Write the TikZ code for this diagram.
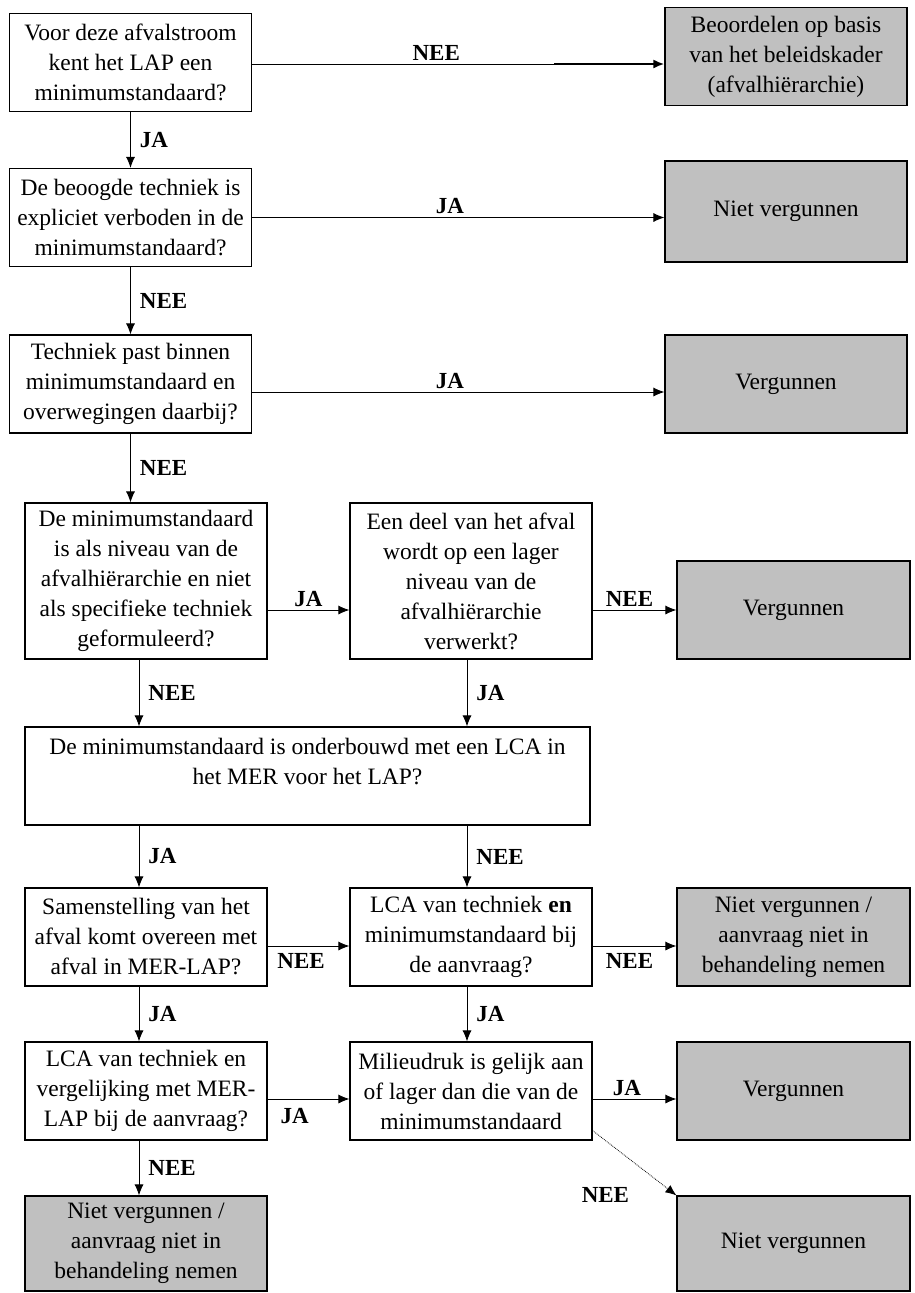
\documentclass[tikz,border=0pt]{standalone}
\usepackage{fontspec}
\setmainfont{Liberation Serif}
\usetikzlibrary{arrows.meta}
\definecolor{grijs}{HTML}{C0C0C0}

\begin{document}
\begin{tikzpicture}[x=1pt,y=-1pt,font=\fontsize{23.5}{30}\selectfont,
            vraag/.style={draw,fill=white,line width=1.1pt,align=center,inner sep=0pt,minimum width=242pt,minimum height=98pt},
            besluit/.style={vraag,fill=grijs},
            hoog/.style={minimum height=156pt},
            smal/.style={minimum width=233pt},
            pijl/.style={line width=0.9pt,-{Latex[length=11pt,width=9pt]}},
            lab/.style={font=\fontsize{23}{29}\selectfont\bfseries,inner sep=3pt}]
                \useasboundingbox (0,0) rectangle (914,1293);
                % vragen en besluiten
                \node[vraag] (v1) at (130.5,62.5) {Voor deze afvalstroom\\kent het LAP een\\minimumstandaard?};
                \node[besluit] (b1) at (786,56.5) {Beoordelen op basis\\van het beleidskader\\(afvalhiërarchie)};
                \node[vraag] (v2) at (130.5,217.5) {De beoogde techniek is\\expliciet verboden in de\\minimumstandaard?};
                \node[besluit,minimum height=101pt] (b2) at (786,211.5) {Niet vergunnen};
                \node[vraag] (v3) at (130.5,384) {Techniek past binnen\\minimumstandaard en\\overwegingen daarbij?};
                \node[besluit] (b3) at (786,384) {Vergunnen};
                \node[vraag,hoog] (v4) at (146,581) {De minimumstandaard\\is als niveau van de\\afvalhiërarchie en niet\\als specifieke techniek\\geformuleerd?};
                \node[vraag,hoog] (v5) at (471,581) {Een deel van het afval\\wordt op een lager\\niveau van de\\afvalhiërarchie\\verwerkt?};
                \node[besluit,smal] (b4) at (793.5,610) {Vergunnen};
                \node[vraag,minimum width=565pt] (v6) at (307.5,776) {De minimumstandaard is onderbouwd met een LCA in\\het MER voor het LAP?\\\mbox{}};
                \node[vraag] (v7) at (146,937) {Samenstelling van het\\afval komt overeen met\\afval in MER-LAP?};
                \node[vraag] (v8) at (471,937) {LCA van techniek \textbf{en}\\minimumstandaard bij\\de aanvraag?};
                \node[besluit,smal] (b5) at (793.5,937) {Niet vergunnen /\\aanvraag niet in\\behandeling nemen};
                \node[vraag] (v9) at (146,1091) {LCA van techniek en\\vergelijking met MER-\\LAP bij de aanvraag?};
                \node[vraag] (v10) at (471,1091) {Milieudruk is gelijk aan\\of lager dan die van de\\minimumstandaard};
                \node[besluit,smal] (b6) at (793.5,1091) {Vergunnen};
                \node[besluit,minimum height=95pt] (b7) at (146,1243.5) {Niet vergunnen /\\aanvraag niet in\\behandeling nemen};
                \node[besluit,smal,minimum height=95pt] (b8) at (793.5,1243.5) {Niet vergunnen};
                % pijlen
                \coordinate (dik) at (554,64);
                \draw[line width=0.9pt] (v1.east |- dik) -- node[lab,above,pos=0.61] (l1) {NEE} (dik);
                \draw[pijl,line width=2.2pt] (dik) -- (dik -| b1.west);
                \draw[pijl] (v1.south) -- node[lab,right=6pt] (l2) {JA} (v2.north);
                \draw[pijl] (v2.east) -- node[lab,above,pos=0.48] (l3) {JA} (v2.east -| b2.west);
                \draw[pijl] (v2.south) -- node[lab,right=6pt] (l4) {NEE} (v3.north);
                \draw[pijl] ([yshift=-8pt]v3.east) -- node[lab,above,pos=0.48] (l5) {JA} ([yshift=-8pt]v3.east -| b3.west);
                \draw[pijl] (v3.south) -- node[lab,right=6pt] (l6) {NEE} (v3.south |- v4.north);
                \draw[pijl] (v4.east |- b4.west) -- node[lab,above] (l7) {JA} (v5.west |- b4.west);
                \draw[pijl] (v5.east |- b4.west) -- node[lab,above,pos=0.44] (l8) {NEE} (b4.west);
                \draw[pijl] ([xshift=-7pt]v4.south) -- node[lab,right=6pt] (l9) {NEE} ([xshift=-7pt]v4.south |- v6.north);
                \draw[pijl] ([xshift=-4pt]v5.south) -- node[lab,right=6pt] (l10) {JA} ([xshift=-4pt]v5.south |- v6.north);
                \draw[pijl] ([xshift=-7pt]v7.north |- v6.south) -- node[lab,right=6pt] (l11) {JA} ([xshift=-7pt]v7.north);
                \draw[pijl] ([xshift=-4pt]v8.north |- v6.south) -- node[lab,right=6pt] (l12) {NEE} ([xshift=-4pt]v8.north);
                \draw[pijl] ([yshift=-9pt]v7.east) -- node[lab,below=4pt,pos=0.41] (l13) {NEE} ([yshift=-9pt]v7.east -| v8.west);
                \draw[pijl] ([yshift=-9pt]v8.east) -- node[lab,below=4pt,pos=0.44] (l14) {NEE} ([yshift=-9pt]v8.east -| b5.west);
                \draw[pijl] ([xshift=-7pt]v7.south) -- node[lab,right=6pt] (l15) {JA} ([xshift=-7pt]v9.north);
                \draw[pijl] ([xshift=-4pt]v8.south) -- node[lab,right=6pt] (l16) {JA} ([xshift=-4pt]v10.north);
                \draw[pijl] ([yshift=-8pt]v9.east) -- node[lab,below=6pt,pos=0.33] (l17) {JA} ([yshift=-8pt]v9.east -| v10.west);
                \draw[pijl] ([yshift=-8pt]v10.east) -- node[lab,above,pos=0.41] (l18) {JA} ([yshift=-8pt]v10.east -| b6.west);
                \draw[pijl] ([xshift=-7pt]v9.south) -- node[lab,right=6pt] (l19) {NEE} ([xshift=-7pt]b7.north);
                \draw[pijl,line width=0.8pt,densely dotted] ([yshift=10pt]v10.south east) -- node[lab,pos=1,left=44pt] (l20) {NEE} (b8.north west);
        \end{tikzpicture}
\end{document}
